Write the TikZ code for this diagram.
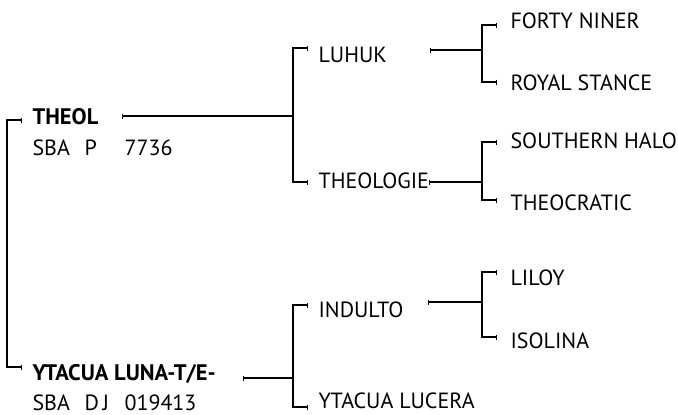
\documentclass[tikz,border=0pt]{standalone}
\usepackage{fontspec}
\setmainfont{PT Sans}
\usetikzlibrary{arrows.meta}
\begin{document}
\begin{tikzpicture}[x=1pt,y=-1pt,line width=1.1pt,
  lbl/.style={anchor=base west,inner sep=0pt,font=\fontsize{22}{24}\selectfont},
  bld/.style={lbl,font=\fontsize{22.5}{24}\selectfont\bfseries},
  brk/.style={{Bar[width=5pt,line width=1pt]}-{Bar[width=5pt,line width=1pt]}},
  outl/.style={{Bar[width=5pt,line width=1pt]}-}]
\useasboundingbox (0,0) rectangle (678,415);
% generation 1
\node[bld] (theol) at (32,124) {THEOL};
\node[lbl] (theolreg) at (32,155) {\makebox[52pt][l]{SBA}\makebox[40pt][l]{P}7736};
\node[bld] (ytacua) at (32,380) {YTACUA LUNA-T/E-};
\node[lbl] (ytacuareg) at (32,410) {\makebox[52pt][l]{SBA}\makebox[40pt][l]{D\,J}019413};
% generation 2
\node[lbl] (luhuk) at (318,62) {LUHUK};
\node[lbl] (theologie) at (318,188) {THEOLOGIE};
\node[lbl] (indulto) at (318,317) {INDULTO};
\node[lbl] (lucera) at (318,408) {YTACUA LUCERA};
% generation 3
\node[lbl] (forty) at (510,28) {FORTY NINER};
\node[lbl] (royal) at (510,90) {ROYAL STANCE};
\node[lbl] (southern) at (510,148) {SOUTHERN HALO};
\node[lbl] (theocratic) at (510,210) {THEOCRATIC};
\node[lbl] (liloy) at (510,285) {LILOY};
\node[lbl] (isolina) at (510,348) {ISOLINA};
% coordinates
\coordinate (tTheol) at (22,120);
\coordinate (cTheol) at (7,120);
\coordinate (cYtacua) at (7,367);
\coordinate (tYtacua) at (22,367);
\coordinate (oTheol) at (122,116);
\coordinate (jTheol) at (293,116);
\coordinate (oYtacua) at (243,378);
\coordinate (jYtacua) at (293,378);
\coordinate (tLuhuk) at (308,48);
\coordinate (cLuhuk) at (293,48);
\coordinate (cTheologie) at (293,182);
\coordinate (tTheologie) at (308,182);
\coordinate (tIndulto) at (308,305);
\coordinate (cIndulto) at (293,305);
\coordinate (cLucera) at (293,407);
\coordinate (tLucera) at (308,407);
\coordinate (oLuhuk) at (430,50);
\coordinate (jLuhuk) at (482,50);
\coordinate (oTheologie) at (429,182);
\coordinate (jTheologie) at (482,182);
\coordinate (oIndulto) at (428,302);
\coordinate (jIndulto) at (482,302);
\coordinate (tForty) at (497,25);
\coordinate (cForty) at (482,25);
\coordinate (cRoyal) at (482,82);
\coordinate (tRoyal) at (497,82);
\coordinate (tSouthern) at (497,142);
\coordinate (cSouthern) at (482,142);
\coordinate (cTheocratic) at (482,200);
\coordinate (tTheocratic) at (497,200);
\coordinate (tLiloy) at (497,272);
\coordinate (cLiloy) at (482,272);
\coordinate (cIsolina) at (482,337);
\coordinate (tIsolina) at (497,337);
% brackets
\draw[brk] (tTheol) -- (cTheol) -- (cYtacua) -- (tYtacua);
\draw[brk] (tLuhuk) -- (cLuhuk) -- (cTheologie) -- (tTheologie);
\draw[brk] (tIndulto) -- (cIndulto) -- (cLucera) -- (tLucera);
\draw[brk] (tForty) -- (cForty) -- (cRoyal) -- (tRoyal);
\draw[brk] (tSouthern) -- (cSouthern) -- (cTheocratic) -- (tTheocratic);
\draw[brk] (tLiloy) -- (cLiloy) -- (cIsolina) -- (tIsolina);
% outgoing lines
\draw[outl] (oTheol) -- (jTheol);
\draw[outl] (oYtacua) -- (jYtacua);
\draw[outl] (oLuhuk) -- (jLuhuk);
\draw[outl] (oTheologie) -- (jTheologie);
\draw[outl] (oIndulto) -- (jIndulto);
\end{tikzpicture}
\end{document}
